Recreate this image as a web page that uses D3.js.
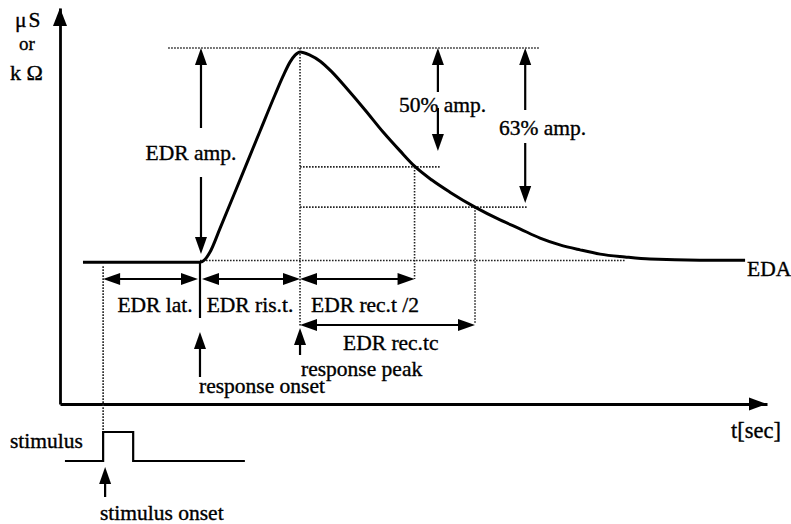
<!DOCTYPE html>
<html><head><meta charset="utf-8">
<script src="https://cdn.jsdelivr.net/npm/d3@7"></script>
<style>
body{margin:0;background:#fff}
svg{display:block}
text{font-family:"Liberation Serif","Times New Roman",serif;fill:#000;font-size:21.5px;stroke:#000;stroke-width:0.35px}
</style></head>
<body><svg id="c" width="791" height="524"></svg>
<script>
// ---------- data (time in s, amplitude in arbitrary units) ----------
const curveT = [0.65, 3.96, 4.10, 4.24, 4.53, 5.09, 5.66, 6.08, 6.31, 6.51, 6.65, 6.79,
                7.07, 7.36, 7.69, 8.15, 8.63, 9.14, 9.62, 10.03, 10.52, 11.03, 11.74,
                12.45, 13.01, 13.58, 14.14, 14.71, 15.28, 15.98, 16.69, 18.10, 19.38];
const curveV = [3.98, 3.98, 4.06, 4.26, 4.94, 6.29, 7.67, 8.68, 9.21, 9.61, 9.80, 9.89,
                9.80, 9.63, 9.33, 8.82, 8.26, 7.64, 7.11, 6.68, 6.29, 5.95, 5.53,
                5.17, 4.92, 4.66, 4.47, 4.33, 4.21, 4.13, 4.07, 4.04, 4.04];
const stimT = [0.14, 1.22, 1.22, 2.07, 2.07, 5.23];
const stimV = [0, 0, 1, 1, 0, 0];
const eventNames = ["stimulus onset", "response onset", "response peak", "half recovery", "63% recovery"];
const eventT = [1.22, 3.96, 6.79, 10.03, 11.74];
const levelNames = ["baseline", "peak", "50% level", "63% level"];
const levelV = [3.98, 10.0, 6.66, 5.53];

// ---------- scales ----------
const svg = d3.select("#c");
const x = d3.scaleLinear().domain([0, 20]).range([60, 767]);
const y = d3.scaleLinear().domain([0, 10]).range([404, 48]);
const yStim = d3.scaleLinear().domain([0, 1]).range([461, 432]);
const yAxisTop = 11.12;

const [tStim, tOn, tPeak, tHalf, tTc] = eventT;
const [vBase, vPeak, vHalf, vTc] = levelV;

function head(g, tx, ty, dx, dy, len = 17, half = 6) {
  const nx = -dy, ny = dx;
  const bx = tx - dx * len, by = ty - dy * len;
  g.append("path")
    .attr("d", `M${tx},${ty}L${bx + nx * half},${by + ny * half}L${bx - nx * half},${by - ny * half}Z`)
    .attr("fill", "#000");
}
function seg(g, x1, y1, x2, y2, w = 2.2) {
  g.append("line").attr("x1", x1).attr("y1", y1).attr("x2", x2).attr("y2", y2)
    .attr("stroke", "#000").attr("stroke-width", w);
}
function dot(g, x1, y1, x2, y2) {
  g.append("line").attr("x1", x1).attr("y1", y1).attr("x2", x2).attr("y2", y2)
    .attr("stroke", "#222").attr("stroke-width", 1.6).attr("stroke-dasharray", "1.6,1.4");
}
function hArrow(g, xa, xb, yy) {
  seg(g, xa + 8, yy, xb - 8, yy);
  head(g, xa, yy, -1, 0);
  head(g, xb, yy, 1, 0);
}
function vArrow(g, xx, ytip, ytail, up) {
  seg(g, xx, ytail, xx, up ? ytip + 8 : ytip - 8);
  head(g, xx, ytip, 0, up ? -1 : 1);
}
function label(g, tx, ty, s, anchor = "start", size) {
  const t = g.append("text").attr("x", tx).attr("y", ty).attr("text-anchor", anchor).text(s);
  if (size) t.style("font-size", size + "px");
  return t;
}

// ---------- axes ----------
const ax = svg.append("g");
const yAxisScale = y.copy().domain([0, yAxisTop]).range([404, 8]);
ax.append("g").attr("transform", `translate(${x(0)},0)`)
  .call(d3.axisLeft(yAxisScale).tickValues([]).tickSizeOuter(0))
  .select(".domain").attr("stroke", "#000").attr("stroke-width", 2.8);
ax.append("g").attr("transform", `translate(0,${y(0)})`)
  .call(d3.axisBottom(x).tickValues([]).tickSizeOuter(0))
  .select(".domain").attr("stroke", "#000").attr("stroke-width", 2.8);
head(ax, x(0), yAxisScale(yAxisTop), 0, -1, 18, 7);
head(ax, x(20), y(0), 1, 0, 18, 6.5);

// ---------- dotted guides ----------
const gd = svg.append("g");
dot(gd, x(3.06), y(vPeak), x(13.58), y(vPeak));
dot(gd, x(tPeak), y(vHalf), x(10.75), y(vHalf));
dot(gd, x(tPeak), y(vTc), x(13.21), y(vTc));
dot(gd, x(tOn), y(4.03), x(15.98), y(4.03));
dot(gd, x(tPeak), y(vPeak), x(tPeak), 327);
dot(gd, x(tHalf), y(vHalf), x(tHalf), 279);
dot(gd, x(tTc), y(vTc), x(tTc), 324);
dot(gd, x(tStim), y(vBase) + 4, x(tStim), yStim(1));

// ---------- curve ----------
const pts = curveT.map((t, i) => [t, curveV[i]]);
svg.append("path").datum(pts)
  .attr("d", d3.line().x(d => x(d[0])).y(d => y(d[1])).curve(d3.curveMonotoneX))
  .attr("fill", "none").attr("stroke", "#000").attr("stroke-width", 3)
  .attr("stroke-linejoin", "round");

// ---------- stimulus ----------
const sp = stimT.map((t, i) => [t, stimV[i]]);
svg.append("path").datum(sp)
  .attr("d", d3.line().x(d => x(d[0])).y(d => yStim(d[1])))
  .attr("fill", "none").attr("stroke", "#000").attr("stroke-width", 2.2);

// ---------- annotations ----------
const ga = svg.append("g");
seg(ga, x(tOn), y(vBase), x(tOn), 318, 2.2);
hArrow(ga, x(tStim), x(tOn) - 2, 279);
hArrow(ga, x(tOn) + 2, x(tPeak), 279);
hArrow(ga, x(tPeak), x(tHalf), 279);
hArrow(ga, x(tPeak), x(tTc), 325);
const xAmp = x(tOn) + 1;
vArrow(ga, xAmp, y(vPeak), 128, true);
vArrow(ga, xAmp, 254, 177, false);
const x50 = x(10.69);
vArrow(ga, x50, y(vPeak), 92, true);
vArrow(ga, x50, 151, 108, false);
const x63 = x(13.16);
vArrow(ga, x63, y(vPeak), 110, true);
vArrow(ga, x63, 203, 143, false);
vArrow(ga, x(tOn), 332, 377, true);
vArrow(ga, x(tPeak), 328, 355, true);
vArrow(ga, x(tStim) + 2, 467, 497, true);

label(ga, 155, 312, "EDR lat.", "middle");
label(ga, 250, 312, "EDR ris.t.", "middle");
label(ga, 311, 312, "EDR rec.t /2");
label(ga, 343, 350, "EDR rec.tc");
label(ga, 301, 376, "response peak");
label(ga, 199, 393, "response onset");
label(ga, 191, 160, "EDR amp.", "middle");
label(ga, 399, 112, "50% amp.");
label(ga, 499, 135, "63% amp.");
label(ga, 747, 276, "EDA");
label(ga, 731, 438, "t[sec]", "start", 22.5);
label(ga, 10, 448, "stimulus");
label(ga, 100, 520, "stimulus onset");
const mu = label(ga, 15, 27, "μ");
mu.append("tspan").attr("dx", 2).text("S");
label(ga, 19, 50, "or", "start", 19);
label(ga, 10, 80, "k Ω", "start", 22);
</script></body></html>
